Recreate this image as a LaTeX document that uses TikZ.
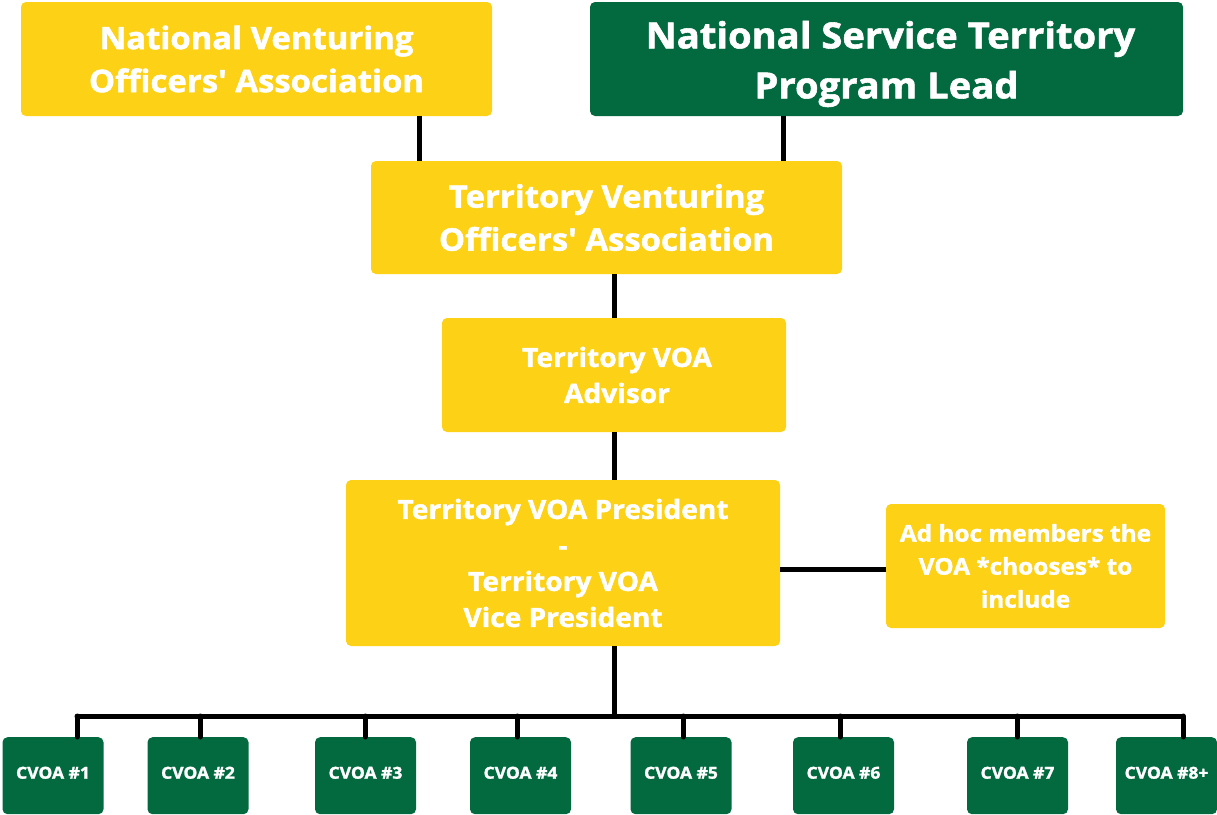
\documentclass[tikz,border=0pt]{standalone}
\usepackage{fontspec}
\setmainfont{Open Sans}[Ligatures=TeXOff,BoldFeatures={FakeBold=1.6,FakeStretch=1.06}]
\definecolor{ylw}{HTML}{FCD116}
\definecolor{grn}{HTML}{036A3F}
\begin{document}
\begin{tikzpicture}[x=1pt,y=-1pt,
  box/.style={rounded corners=5pt, inner sep=0pt, text=white, font=\bfseries, align=center},
  ybox/.style={box, fill=ylw},
  gbox/.style={box, fill=grn},
  conn/.style={line width=5pt, black}]
\useasboundingbox (0,0) rectangle (1217,814);
% boxes
\node[ybox, minimum width=471pt, minimum height=114pt, font=\bfseries\fontsize{31}{43}\selectfont] (nvoa) at (256.5,59) {National Venturing\\Officers' Association};
\node[gbox, minimum width=593pt, minimum height=114pt,
  label={[text=white, align=center, font=\bfseries\fontsize{36}{50}\selectfont, yshift=-5pt]center:\hspace*{8pt}National Service Territory\\Program Lead}] (nst) at (886.5,59) {};
\node[ybox, minimum width=471pt, minimum height=113pt, font=\bfseries\fontsize{31}{43}\selectfont] (tvoa) at (606.5,217.5) {Territory Venturing\\Officers' Association};
\node[ybox, minimum width=344pt, minimum height=114pt, font=\bfseries\fontsize{26.5}{36}\selectfont] (adv) at (614,375) {\hspace*{6pt}Territory VOA\\\hspace*{6pt}Advisor};
\node[ybox, minimum width=434pt, minimum height=166pt, font=\bfseries\fontsize{26.5}{36}\selectfont] (pres) at (563,563) {Territory VOA President\\-\\Territory VOA\\Vice President};
\node[ybox, minimum width=279pt, minimum height=124pt, font=\bfseries\fontsize{23}{33}\selectfont] (adhoc) at (1025.5,566) {Ad hoc members the\\VOA *chooses* to\\include};
\foreach \n/\cx in {1/53,2/198,3/365.5,4/520.5,5/681,6/843.5,7/1017.5,8/1166.5}{
  \node[gbox, minimum width=101pt, minimum height=77pt, font=\bfseries\fontsize{16.5}{18}\selectfont, anchor=north, text depth=0pt] (c\n) at (\cx,737) {\raisebox{6pt}{CVOA \#\ifnum\n=8 8+\else\n\fi}};
}
% connectors
\draw[conn] (nvoa.south -| 419,0) -- (tvoa.north -| 419,0);
\draw[conn] (nst.south -| 783,0) -- (tvoa.north -| 783,0);
\draw[conn] (tvoa.south -| 614,0) -- (adv.north);
\draw[conn] (adv.south) -- (pres.north -| adv.south);
\draw[conn] (pres.east |- 0,569) -- (adhoc.west |- 0,569);
\coordinate (bus) at (614,716);
\draw[conn] (pres.south -| bus) -- (bus);
\coordinate (bl) at (77,716);
\coordinate (br) at (1183,716);
\draw[conn, line cap=round] (bl) -- (br);
\foreach \n/\dx in {1/77,2/200,3/365,4/517,5/683,6/840,7/1017,8/1183}{
  \draw[conn, line cap=round] (\dx,716) -- (c\n.north -| \dx,0);
}
\end{tikzpicture}
\end{document}
